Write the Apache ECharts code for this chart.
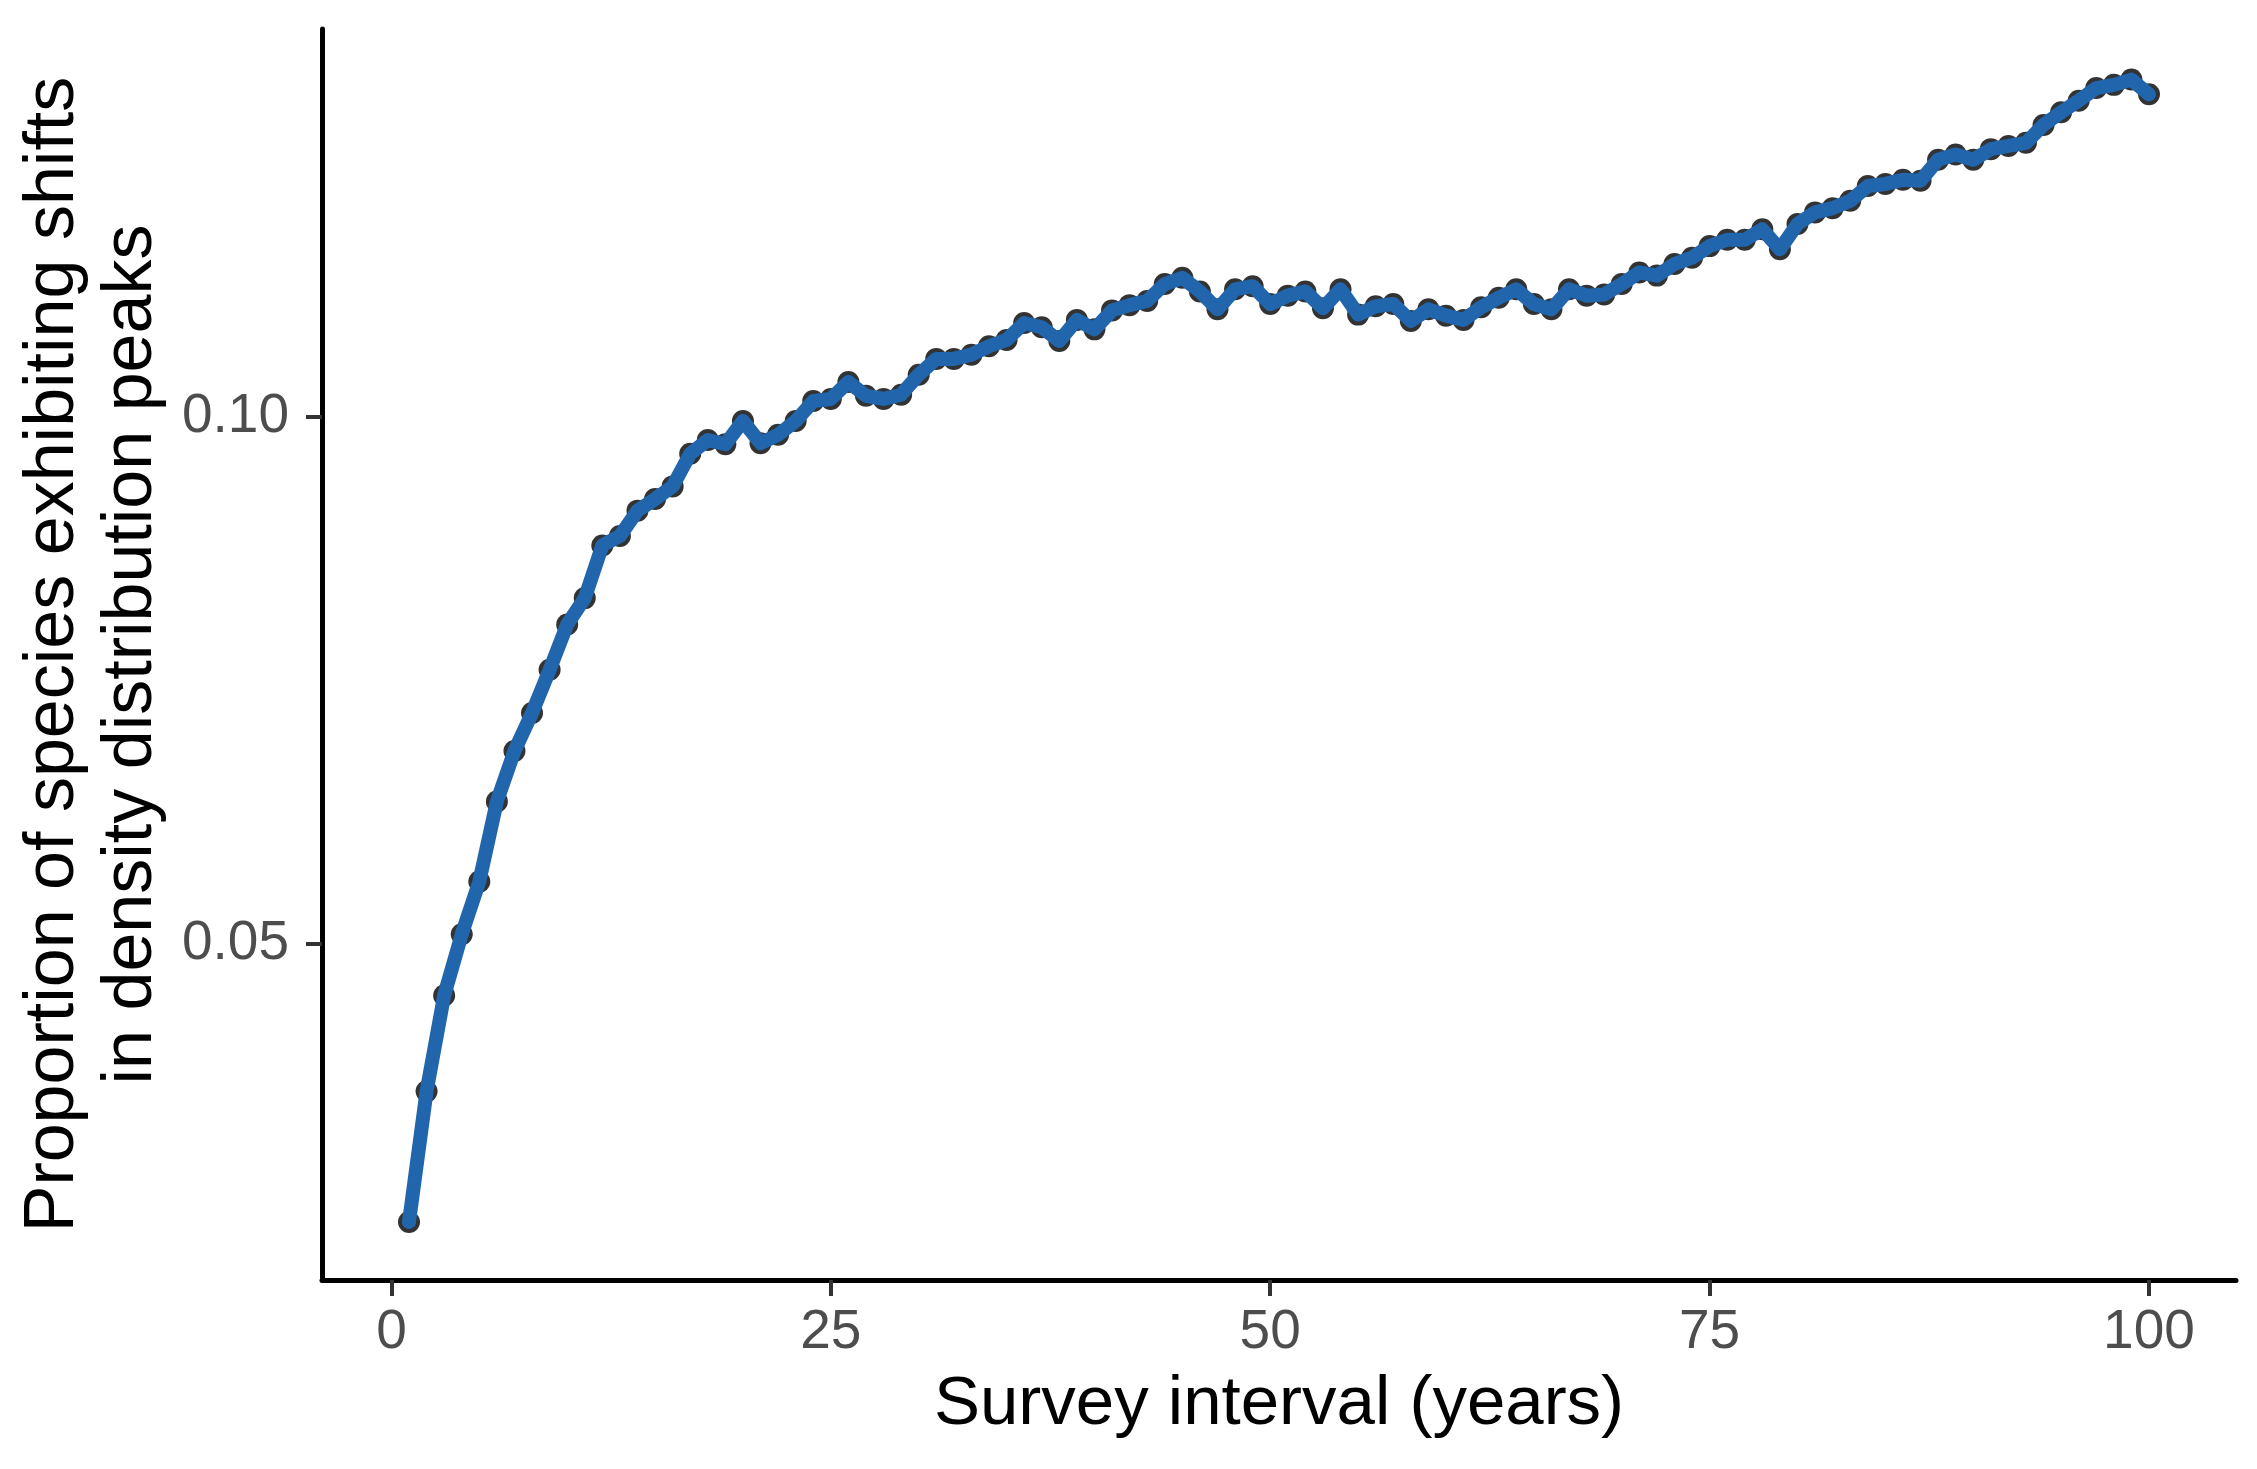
<!DOCTYPE html>
<html>
<head>
<meta charset="utf-8">
<script src="https://cdn.jsdelivr.net/npm/echarts@6/dist/echarts.min.js"></script>
<style>
html,body{margin:0;padding:0;background:#fff;}
#chart{width:2257px;height:1469px;}
</style>
</head>
<body>
<div id="chart"></div>
<script>
// Survey interval (years)
const years = [];
for (let i = 1; i <= 100; i++) years.push(i);

// Proportion of species exhibiting shifts in density distribution peaks
const proportions = [
  0.0236, 0.0360, 0.0451, 0.0509, 0.0559, 0.0635, 0.0683, 0.0719, 0.0760, 0.0803,
  0.0828, 0.0878, 0.0887, 0.0911, 0.0922, 0.0934, 0.0965, 0.0978, 0.0974, 0.0996,
  0.0975, 0.0983, 0.0996, 0.1015, 0.1017, 0.1033, 0.1020, 0.1017, 0.1021, 0.1040,
  0.1055, 0.1055, 0.1059, 0.1067, 0.1073, 0.1089, 0.1085, 0.1072, 0.1092, 0.1083,
  0.1101, 0.1106, 0.1110, 0.1126, 0.1132, 0.1119, 0.1102, 0.1121, 0.1124, 0.1107,
  0.1115, 0.1119, 0.1103, 0.1121, 0.1097, 0.1105, 0.1107, 0.1091, 0.1102, 0.1096,
  0.1092, 0.1104, 0.1113, 0.1121, 0.1107, 0.1102, 0.1121, 0.1115, 0.1116, 0.1126,
  0.1137, 0.1134, 0.1145, 0.1151, 0.1162, 0.1168, 0.1168, 0.1178, 0.1159, 0.1183,
  0.1194, 0.1198, 0.1205, 0.1219, 0.1221, 0.1225, 0.1224, 0.1244, 0.1249, 0.1244,
  0.1254, 0.1257, 0.1260, 0.1277, 0.1289, 0.1300, 0.1312, 0.1315, 0.1320, 0.1306
];

const xTicks = [0, 25, 50, 75, 100];
const yTicks = [0.05, 0.10];

const xTitle = 'Survey interval (years)';
const yTitle = 'Proportion of species exhibiting shifts\nin density distribution peaks';

const points = years.map((x, i) => [x, proportions[i]]);

const FONT = "'Liberation Sans', Arial, sans-serif";

const chart = echarts.init(document.getElementById('chart'), null, {renderer: 'canvas'});
chart.setOption({
  backgroundColor: '#ffffff',
  animation: false,
  grid: {left: 322, right: 21, top: 29, bottom: 189, containLabel: false},
  xAxis: {
    type: 'value',
    min: -3.95,
    max: 104.95,
    name: xTitle,
    nameLocation: 'middle',
    nameGap: 90,
    nameTextStyle: {fontFamily: FONT, fontSize: 69, color: '#000000', lineHeight: 69},
    axisLine: {show: true, onZero: false, lineStyle: {color: '#000000', width: 5}},
    axisTick: {show: true, length: 16, lineStyle: {color: '#333333', width: 4}, customValues: xTicks},
    axisLabel: {show: true, margin: 25, fontFamily: FONT, fontSize: 55, color: '#4D4D4D', customValues: xTicks,
      formatter: v => String(v)},
    splitLine: {show: false}
  },
  yAxis: {
    type: 'value',
    min: 0.0181,
    max: 0.1368,
    name: yTitle,
    nameLocation: 'middle',
    nameRotate: 90,
    nameGap: 150,
    nameTextStyle: {fontFamily: FONT, fontSize: 70, color: '#000000', lineHeight: 78, align: 'center'},
    axisLine: {show: true, onZero: false, lineStyle: {color: '#000000', width: 5}},
    axisTick: {show: true, length: 16, lineStyle: {color: '#333333', width: 4}, customValues: yTicks},
    axisLabel: {show: true, margin: 33, fontFamily: FONT, fontSize: 55, color: '#4D4D4D', customValues: yTicks,
      formatter: v => v.toFixed(2)},
    splitLine: {show: false}
  },
  series: [
    {
      type: 'scatter',
      data: points,
      symbol: 'circle',
      symbolSize: 22,
      itemStyle: {color: '#000000'},
      z: 1,
      silent: true
    },
    {
      type: 'line',
      data: points,
      showSymbol: false,
      symbol: 'none',
      smooth: false,
      lineStyle: {color: '#2166AC', width: 14, cap: 'round', join: 'round'},
      z: 2,
      silent: true
    }
  ]
});
</script>
</body>
</html>
